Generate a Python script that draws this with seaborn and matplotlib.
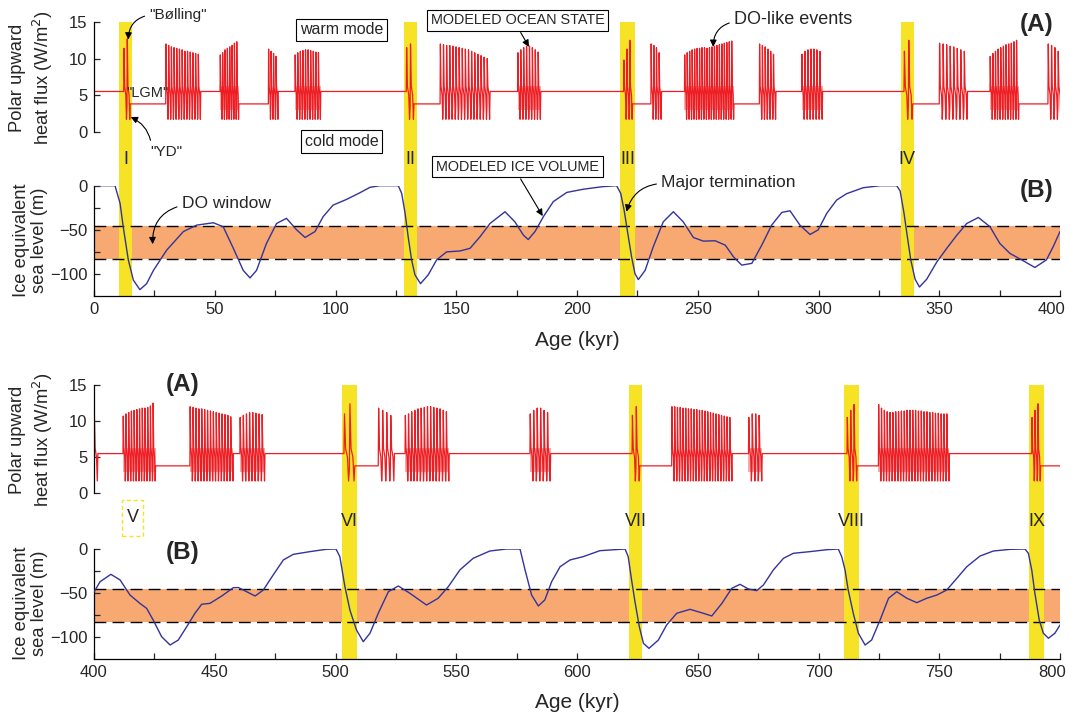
import numpy as np
import pandas as pd
import matplotlib
matplotlib.use("Agg")
import matplotlib.pyplot as plt
import matplotlib.transforms as mtransforms
import seaborn as sns
from matplotlib.patches import Rectangle

# ------------------------------------------------------------------ data
# Ice-equivalent sea level (m), 0-400 kyr
top_sl_age = [0, 8.7, 10.8, 12.1, 14.2, 16.3, 19.0, 21.8, 24.6, 30.1, 37.0, 42.5, 49.4, 53.5,
              57.7, 61.8, 64.6, 67.3, 71.4, 75.6, 79.7, 83.9, 87.4, 91.5, 94.9, 99.0, 104.6,
              110.1, 114.3, 118.4, 126.0, 127.4, 128.8, 130.1, 131.5, 132.9, 135.2, 138.4,
              141.9, 146.0, 151.5, 155.7, 159.8, 164.0, 170.2, 174.3, 177.8, 179.8, 182.6,
              186.1, 190.2, 195.8, 202.6, 210.9, 216.4, 218.1, 219.5, 220.8, 222.6, 224.0,
              225.4, 228.2, 231.6, 235.7, 239.9, 244.0, 248.2, 252.3, 257.2, 261.4, 264.8,
              268.2, 272.4, 276.5, 280.6, 284.8, 288.2, 292.3, 296.5, 299.9, 303.4, 307.5,
              311.6, 318.5, 325.5, 332.4, 333.8, 335.4, 336.8, 338.2, 340.0, 341.8, 344.8,
              349.0, 353.1, 357.3, 361.4, 366.2, 371.0, 375.1, 379.3, 384.1, 389.6, 394.4,
              397.2, 400.0]
top_sl_val = [0, 0, -20, -46.5, -84, -107, -117.8, -111, -96, -73, -52, -44.7, -42, -46.5,
              -71, -96, -104.5, -96, -65.5, -42.8, -37, -50, -58.7, -52, -35, -22, -15.5,
              -8, -1.8, 0, 0, -8.7, -31, -58, -84, -101, -111, -101,
              -84, -75, -74, -71, -58, -42.8, -29.5, -41, -56, -61, -52,
              -35, -18, -7.6, -4, -1, 0, -8.7, -27.6, -50, -80.6, -99.6,
              -106.4, -96, -69, -41, -29.5, -41, -58.7, -62.8, -62.4, -67.4, -80.6,
              -90, -88, -67.4, -44.7, -30.3, -28.4, -44.7, -55.3, -50, -31.4, -16.3,
              -9.1, -2.3, 0, 0, -6, -31, -58, -84, -106, -114.8, -106,
              -86.4, -71, -56, -42.8, -36, -46.5, -65.5, -76.8, -84, -92.7, -84,
              -69, -52]

# Ice-equivalent sea level (m), 400-800 kyr
bot_sl_age = [400.1, 402.5, 407.0, 410.8, 414.9, 419.0, 421.8, 424.5, 428.0, 431.5, 434.9,
              438.4, 441.8, 444.6, 448.0, 452.9, 457.7, 459.8, 463.2, 466.7, 470.1, 474.2,
              478.4, 482.5, 489.4, 496.3, 500.2, 501.8, 503.9, 506.0, 508.7, 511.5, 514.3,
              517.7, 521.9, 526.0, 530.8, 537.7, 542.5, 546.7, 551.5, 557.0, 563.9, 570.8,
              576.4, 578.5, 581.2, 584.0, 586.7, 589.5, 593.0, 597.1, 602.6, 609.5, 619.9,
              621.2, 622.6, 624.0, 625.8, 627.5, 629.8, 633.7, 637.1, 641.3, 646.8, 652.3,
              655.8, 660.0, 664.1, 667.5, 671.0, 674.4, 677.2, 681.3, 685.5, 689.6, 696.5,
              703.4, 708.2, 709.6, 711.0, 712.3, 714.4, 716.5, 719.3, 722.0, 725.5, 729.0,
              732.4, 736.6, 740.7, 744.8, 749.0, 753.1, 757.3, 761.4, 766.9, 772.4, 779.3,
              785.5, 786.9, 788.3, 789.6, 791.4, 793.1, 795.2, 797.9, 800.0]
bot_sl_val = [-48.7, -37.3, -28.9, -35.3, -52.5, -62, -67.7, -81, -100, -109.5, -103.8,
              -88.6, -73.3, -63, -62, -53.6, -44.1, -44, -48.7, -53.6, -46.8, -29.6,
              -12.5, -6.1, -3, -0.3, 0, -8.7, -43, -70, -92.4, -105.7, -96,
              -73.3, -48.7, -42.2, -50.5, -63.9, -56.2, -43, -23.9, -10.6, -2.3, 0,
              0, -24, -52.5, -65, -58, -37.3, -20.2, -12.5, -8.7, -1.9, 0,
              -8.7, -35.3, -60, -88.6, -107.5, -113.3, -103.8, -86.7, -73.3, -68.8, -73.3,
              -76.4, -62, -44.8, -40.3, -45.6, -47.5, -41, -23.9, -10.6, -4.9, -3,
              -0.8, 0, -8.7, -24, -46.8, -73.3, -96, -109.5, -103.8, -81, -56.2,
              -48.7, -56.2, -61.2, -56.2, -52.5, -46.8, -33.4, -20.2, -8, -2.3, -0.4,
              0, -4.9, -24, -50.5, -81, -96, -101.8, -96, -86.7]

do_window_top = -45.5
do_window_bottom = -83.5

# Polar upward heat flux (W/m2): oscillation episodes, 0-400 kyr
top_flux_level0 = 5.5
top_ep_start = [12.3, 29.7, 52.2, 72.2, 83.2, 129.3, 143.3, 175.4, 219.3, 230.6, 244.5,
                275.5, 293.0, 335.4, 350.0, 371.0, 395.0]
top_ep_end = [15.0, 44.2, 60.0, 76.3, 93.9, 132.5, 164.0, 185.0, 223.0, 235.0, 265.0,
              282.4, 301.7, 339.0, 361.7, 383.0, 400.5]
top_ep_peaks = [
    [11.4, 12.7],
    [12.0, 11.8, 11.6, 11.5, 11.4, 11.3, 11.2, 11.0, 11.0, 10.9, 10.8, 10.7, 10.6],
    [10.5, 10.8, 11.2, 11.4, 11.6, 11.8, 12.1, 12.3],
    [11.3, 11.0, 10.7, 10.3],
    [10.5, 10.8, 11.0, 11.1, 11.2, 11.2, 11.1, 11.0, 10.9, 10.8],
    [11.5, 12.0],
    [12.0, 11.9, 11.8, 11.8, 11.7, 11.6, 11.5, 11.4, 11.3, 11.2, 11.0, 10.8, 10.6, 10.4, 10.2, 10.0],
    [10.8, 11.2, 11.5, 11.7, 11.7, 11.5, 11.2, 10.9],
    [9.8, 11.3, 12.5],
    [12.0, 11.8, 11.5, 10.8],
    [10.5, 10.8, 11.0, 11.2, 11.3, 11.4, 11.4, 11.5, 11.5, 11.4, 11.5, 11.6, 11.7, 11.8,
     11.9, 12.0, 12.1, 12.2, 12.3, 12.4],
    [12.0, 11.8, 11.6, 11.3, 11.0, 10.6],
    [10.6, 11.0, 11.2, 11.3, 11.3, 11.2, 11.0],
    [11.0, 12.5],
    [12.1, 12.0, 11.9, 11.7, 11.6, 11.4, 11.2, 11.0],
    [10.3, 10.7, 11.0, 11.3, 11.5, 11.7, 11.9, 12.0, 12.1, 12.3, 12.5],
    [12.0, 11.8, 11.5, 11.0],
]
top_ep_level_after = [3.8, 5.5, 3.8, 5.5, 5.5, 3.8, 5.5, 5.5, 3.8, 5.5, 3.8, 5.5, 5.5,
                      3.8, 5.5, 3.8, 3.8]
top_ep_warm = [False, False, True, False, True, False, False, True, False, False, True,
               False, True, False, False, True, False]

# Polar upward heat flux (W/m2): oscillation episodes, 400-800 kyr
bot_flux_level0 = 5.5
bot_ep_start = [400.0, 412.0, 439.7, 460.4, 503.5, 517.7, 528.8, 580.5, 622.8, 639.2,
                671.0, 711.8, 724.8, 788.3]
bot_ep_end = [401.6, 425.5, 457.7, 470.8, 508.0, 524.4, 547.1, 589.1, 626.0, 664.3,
              676.7, 716.0, 754.2, 792.0]
bot_ep_peaks = [
    [10.8],
    [10.7, 11.0, 11.2, 11.4, 11.5, 11.6, 11.7, 11.8, 11.8, 11.9, 12.1, 12.5],
    [12.0, 11.9, 11.8, 11.7, 11.7, 11.6, 11.5, 11.4, 11.3, 11.2, 11.1, 11.0, 10.9, 10.8, 10.6],
    [10.5, 10.8, 11.0, 11.2, 11.2, 11.1, 11.0, 10.9],
    [11.0, 12.4],
    [11.8, 11.5, 11.2, 10.8],
    [10.8, 11.0, 11.3, 11.5, 11.7, 11.8, 11.9, 12.0, 12.0, 11.9, 11.8, 11.7, 11.5, 11.3],
    [11.0, 11.5, 11.8, 11.8, 11.5, 11.2],
    [10.8, 12.0],
    [12.0, 12.0, 11.9, 11.9, 11.8, 11.8, 11.7, 11.7, 11.6, 11.6, 11.5, 11.5, 11.4, 11.3,
     11.2, 11.1, 11.0, 10.9, 10.8, 10.7, 10.6, 10.5],
    [10.5, 11.0, 11.0, 10.8],
    [10.5, 11.5, 12.3],
    [12.3, 11.8, 11.5, 11.3, 11.2, 11.2, 11.3, 11.3, 11.4, 11.4, 11.5, 11.5, 11.5, 11.5,
     11.4, 11.4, 11.3, 11.3, 11.2, 11.2, 11.1, 11.1, 11.0, 11.0, 11.0],
    [10.5, 11.5, 12.4],
]
bot_ep_level_after = [5.5, 3.8, 5.5, 5.5, 3.8, 5.5, 5.5, 5.5, 3.8, 5.5, 5.5, 3.8, 5.5, 3.8]
bot_ep_warm = [False, True, True, True, False, False, True, True, False, False, True,
               False, True, False]

# Major terminations (yellow bands)
top_term_start = [10.4, 128.4, 217.8, 334.2]
top_term_end = [15.7, 133.6, 224.0, 339.4]
top_term_label = ["I", "II", "III", "IV"]
bot_term_start = [502.7, 621.5, 710.6, 787.2]
bot_term_end = [508.7, 627.0, 716.8, 793.4]
bot_term_label = ["VI", "VII", "VIII", "IX"]
missing_term_start, missing_term_end, missing_term_label = 411.6, 420.4, "V"

# ------------------------------------------------------------------ helpers
def flux_frame(x0, x1, level0, starts, ends, peaks, after):
    t, v = [x0], [level0]
    level = level0
    for s, e, pk, la in zip(starts, ends, peaks, after):
        if s > t[-1]:
            t.append(s); v.append(level)
        n = len(pk)
        p = (e - s) / n
        for i, h in enumerate(pk):
            ts = s + i * p
            if i > 0:
                t.append(ts); v.append(3.4)
            t += [ts + 0.1 * p, ts + 0.3 * p, ts + 0.65 * p, ts + 0.85 * p]
            v += [h, 6.2, 5.0, 1.7]
        t.append(e); v.append(la)
        level = la
    if x1 > t[-1]:
        t.append(x1); v.append(level)
    return pd.DataFrame({"age": t, "flux": v})


sns.set_theme(style="ticks")
plt.rcParams["font.family"] = ["Liberation Sans", "DejaVu Sans"]
plt.rcParams["axes.linewidth"] = 0.9
plt.rcParams["axes.edgecolor"] = "black"

W, H = 1071, 717
fig = plt.figure(figsize=(W / 100, H / 100), dpi=100)
fig.patch.set_facecolor("white")

YELLOW = "#F6E325"
ORANGE = "#F7A971"
RED = "#EE1D23"
BLUE = "#33339C"
PINK = "#F6AAAA"


def px_axes(l, t, r, b, z):
    ax = fig.add_axes([l / W, 1 - b / H, (r - l) / W, (b - t) / H])
    ax.set_zorder(z)
    ax.patch.set_alpha(0)
    return ax


def panel(x0, x1, yA_top, yA_bot, yB_top, yB_bot, flux_df, ep_s, ep_e, warm,
          sl_age, sl_val, bar_s, bar_e, bar_lab):
    bg = px_axes(94, yA_top, 1060, yB_bot, 0)
    bg.set_xlim(x0, x1); bg.set_ylim(0, 1); bg.axis("off")
    axA = px_axes(94, yA_top, 1060, yA_bot, 1)
    axB = px_axes(94, yB_top, 1060, yB_bot, 2)
    for s, e, lab in zip(bar_s, bar_e, bar_lab):
        bg.axvspan(s, e, color=YELLOW, lw=0, zorder=0)
        axB.axvspan(s, e, color=YELLOW, lw=0, zorder=1)
        bg.text((s + e) / 2, 0.5, lab, ha="center", va="center", fontsize=13, zorder=3)

    # heat flux panel
    axA.set_xlim(x0, x1); axA.set_ylim(0, 15)
    for s, e, w in zip(ep_s, ep_e, warm):
        if w:
            axA.fill_between([s, min(e, x1)], 3.0, 6.3, color=PINK, lw=0, zorder=1)
    sns.lineplot(data=flux_df, x="age", y="flux", ax=axA, color=RED, lw=0.9,
                 estimator=None, sort=False, legend=False, zorder=2)
    for sp in ["top", "right", "bottom"]:
        axA.spines[sp].set_visible(False)
    axA.set_yticks([0, 5, 10, 15])
    axA.tick_params(axis="x", bottom=False, labelbottom=False)
    axA.tick_params(axis="y", direction="in", length=4, width=0.9, labelsize=12, pad=4.5)
    axA.set_xlabel(""); axA.set_ylabel("")

    # sea level panel
    axB.set_xlim(x0, x1); axB.set_ylim(-125, 0)
    axB.axhspan(do_window_bottom, do_window_top, color=ORANGE, lw=0, zorder=0.5)
    for yv in (do_window_top, do_window_bottom):
        axB.axhline(yv, color="black", lw=1.0, ls=(0, (8.5, 4.5)), zorder=2)
    sns.lineplot(x=sl_age, y=sl_val, ax=axB, color=BLUE, lw=1.0,
                 estimator=None, sort=False, legend=False, zorder=3)
    for sp in ["top", "right"]:
        axB.spines[sp].set_visible(False)
    axB.set_yticks([-100, -50, 0])
    axB.set_yticks([-75, -25], minor=True)
    axB.set_xticks(np.arange(x0, x1 + 1, 50))
    axB.set_xticks(np.arange(x0 + 25, x1, 50), minor=True)
    axB.tick_params(which="both", direction="in", length=4, width=0.9, labelsize=12, pad=4.5)
    axB.set_xlabel(""); axB.set_ylabel("")
    last = axB.xaxis.get_major_ticks()[-1].label1
    last.set_transform(last.get_transform() +
                       mtransforms.ScaledTranslation(-0.08, 0, fig.dpi_scale_trans))
    return bg, axA, axB


top_flux = flux_frame(0, 400, top_flux_level0, top_ep_start, top_ep_end, top_ep_peaks,
                      top_ep_level_after)
bot_flux = flux_frame(400, 800, bot_flux_level0, bot_ep_start, bot_ep_end, bot_ep_peaks,
                      bot_ep_level_after)

bg1, A1, B1 = panel(0, 400, 22, 131.7, 185.7, 296, top_flux, top_ep_start, top_ep_end,
                    top_ep_warm, top_sl_age, top_sl_val, top_term_start, top_term_end,
                    top_term_label)
bg2, A2, B2 = panel(400, 800, 385, 493.3, 549, 658.6, bot_flux, bot_ep_start, bot_ep_end,
                    bot_ep_warm, bot_sl_age, bot_sl_val, bot_term_start, bot_term_end,
                    bot_term_label)

# dashed box for the missing termination V
bg2.add_patch(Rectangle((missing_term_start, 0.448), missing_term_end - missing_term_start,
                        0.132, fill=False, ec=YELLOW, lw=1.0, ls=(0, (3, 2)), zorder=2))
bg2.text((missing_term_start + missing_term_end) / 2, 0.515, missing_term_label,
         ha="center", va="center", fontsize=13)

# axis labels
labA = dict(rotation=90, ha="center", va="center", fontsize=13.2, linespacing=1.3)
labB = dict(rotation=90, ha="center", va="center", fontsize=13.2, linespacing=1.15)
fig.text(32 / W, 1 - 78 / H, "Polar upward\nheat flux (W/m$^2$)", **labA)
fig.text(30.5 / W, 1 - 240 / H, "Ice equivalent\nsea level (m)", **labB)
fig.text(32 / W, 1 - 440 / H, "Polar upward\nheat flux (W/m$^2$)", **labA)
fig.text(30.5 / W, 1 - 603 / H, "Ice equivalent\nsea level (m)", **labB)
fig.text(577 / W, 1 - 341 / H, "Age (kyr)", ha="center", va="center", fontsize=15)
fig.text(577 / W, 1 - 703 / H, "Age (kyr)", ha="center", va="center", fontsize=15)

# panel letters
bold = dict(ha="center", va="center", fontsize=17.5, fontweight="bold")
fig.text(1036.7 / W, 1 - 24 / H, "(A)", **bold)
fig.text(1036.7 / W, 1 - 191 / H, "(B)", **bold)
fig.text(182.7 / W, 1 - 385 / H, "(A)", **bold)
fig.text(182.7 / W, 1 - 553 / H, "(B)", **bold)

# annotations
box = dict(boxstyle="square,pad=0.25", fc="white", ec="black", lw=0.8)


def arrow(rad, relpos=(0.5, 0.5)):
    return dict(arrowstyle="-|>", color="black", lw=0.8, mutation_scale=10,
                connectionstyle=f"arc3,rad={rad}", relpos=relpos, shrinkA=1, shrinkB=0)


A1.annotate('"Bølling"', xy=(14.2, 12.6), xycoords="data", xytext=(178, H - 15),
            textcoords="figure pixels", ha="center", va="center", fontsize=11,
            arrowprops=arrow(0.4, (0.0, 0.5)))
A1.annotate('"YD"', xy=(15.2, 2.0), xycoords="data", xytext=(166, H - 152),
            textcoords="figure pixels", ha="center", va="center", fontsize=11,
            arrowprops=arrow(0.3, (0.05, 0.8)))
fig.text(147.5 / W, 1 - 92.7 / H, '"LGM"', ha="center", va="center", fontsize=10.5)
fig.text(341.5 / W, 1 - 30 / H, "warm mode", ha="center", va="center", fontsize=11.5, bbox=box)
fig.text(341.5 / W, 1 - 141.7 / H, "cold mode", ha="center", va="center", fontsize=11.5, bbox=box)
A1.annotate("MODELED OCEAN STATE", xy=(180.1, 11.6), xycoords="data", xytext=(517.7, H - 20.3),
            textcoords="figure pixels", ha="center", va="center", fontsize=10.4, bbox=box,
            arrowprops=arrow(0.0, (0.5, 0.0)))
A1.annotate("DO-like events", xy=(256.4, 11.6), xycoords="data", xytext=(793, H - 20),
            textcoords="figure pixels", ha="center", va="center", fontsize=13,
            arrowprops=arrow(0.4, (0.0, 0.4)))
B1.annotate("MODELED ICE VOLUME", xy=(185.8, -34.4), xycoords="data", xytext=(517.5, H - 166.7),
            textcoords="figure pixels", ha="center", va="center", fontsize=10.4, bbox=box,
            arrowprops=arrow(0.0, (0.5, 0.0)))
B1.annotate("Major termination", xy=(220.5, -29.5), xycoords="data", xytext=(728.3, H - 182),
            textcoords="figure pixels", ha="center", va="center", fontsize=12.5,
            arrowprops=arrow(0.35, (0.0, 0.4)))
B1.annotate("DO window", xy=(24.3, -66.3), xycoords="data", xytext=(226, H - 204),
            textcoords="figure pixels", ha="center", va="center", fontsize=12.5,
            arrowprops=arrow(0.4, (0.0, 0.4)))

fig.savefig("out.png", dpi=100)
